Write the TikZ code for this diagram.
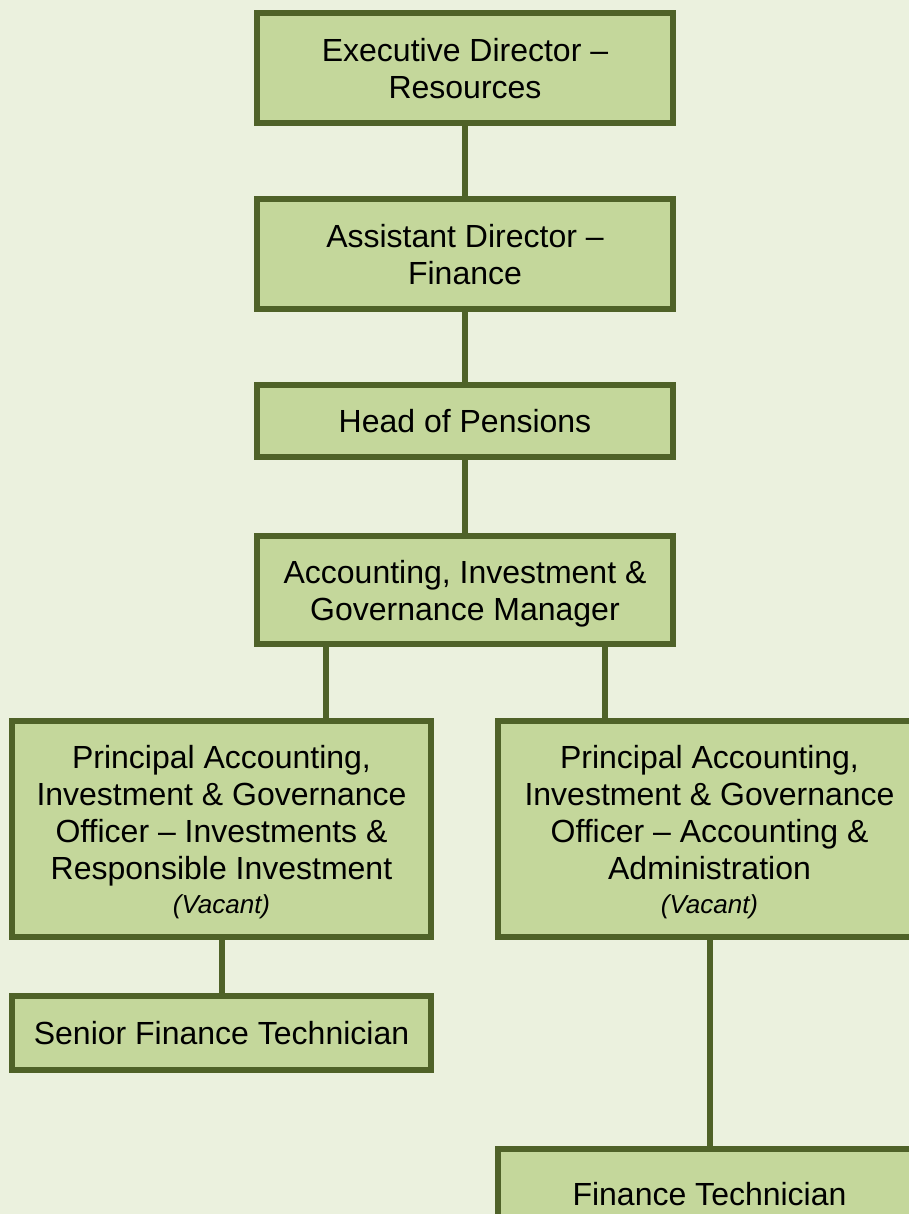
\documentclass[tikz,border=0pt]{standalone}
\usepackage{fontspec}
\setmainfont{Liberation Sans}
\definecolor{bgc}{HTML}{EBF1DE}
\definecolor{boxfill}{HTML}{C4D79B}
\definecolor{boxline}{HTML}{4F6228}
\tikzset{
  orgbox/.style={draw=boxline, fill=boxfill, line width=6pt, align=center,
    inner sep=0pt, text depth=0pt, font=\fontsize{32}{37}\selectfont},
  link/.style={draw=boxline, line width=6pt}
}
\newcommand{\vac}{{\fontsize{26}{30}\selectfont\itshape (Vacant)}}
\begin{document}
\begin{tikzpicture}[x=1pt,y=-1pt]
\fill[bgc] (0,0) rectangle (909,1214);
\useasboundingbox (0,0) rectangle (909,1214);
\node[orgbox, minimum width=416pt, minimum height=110pt] (ed) at (465,68) {Executive Director --\\Resources};
\node[orgbox, minimum width=416pt, minimum height=110pt] (ad) at (465,254) {Assistant Director --\\Finance};
\node[orgbox, minimum width=416pt, minimum height=72pt] (hp) at (465,421) {Head of Pensions};
\node[orgbox, minimum width=416pt, minimum height=108pt] (mg) at (465,590) {Accounting, Investment \&\\Governance Manager};
\node[orgbox, minimum width=419pt, minimum height=216pt] (pl) at (221.5,829) {Principal Accounting,\\Investment \& Governance\\Officer -- Investments \&\\Responsible Investment\\[-3pt]\vac};
\node[orgbox, minimum width=423pt, minimum height=216pt] (pr) at (709.5,829) {Principal Accounting,\\Investment \& Governance\\Officer -- Accounting \&\\Administration\\[-3pt]\vac};
\node[orgbox, minimum width=419pt, minimum height=74pt] (sf) at (221.5,1033) {Senior Finance Technician};
\node[orgbox, minimum width=423pt, minimum height=90pt] (ft) at (709.5,1194) {Finance Technician};
\draw[link] (ed.south) -- (ad.north);
\draw[link] (ad.south) -- (hp.north);
\draw[link] (hp.south) -- (mg.north);
\draw[link] ([xshift=-139pt]mg.south) -- ([xshift=-139pt]mg.south |- pl.north);
\draw[link] ([xshift=140pt]mg.south) -- ([xshift=140pt]mg.south |- pr.north);
\draw[link] (pl.south) -- (sf.north);
\draw[link] (pr.south) -- (ft.north);
\end{tikzpicture}
\end{document}
